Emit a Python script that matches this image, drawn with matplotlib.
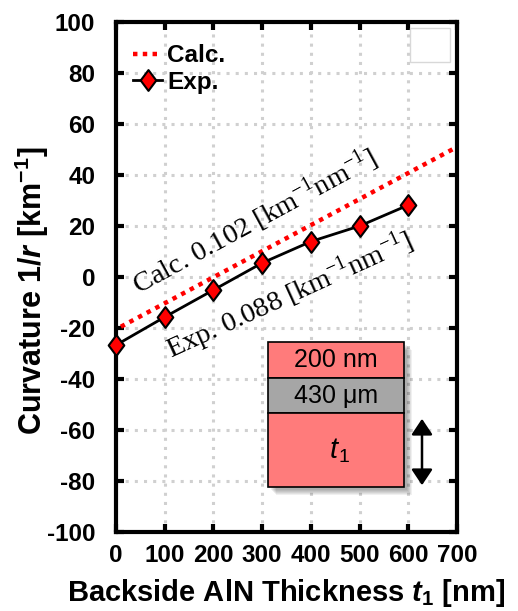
import matplotlib
matplotlib.use("Agg")
import matplotlib.pyplot as plt
from matplotlib.patches import Rectangle, FancyArrowPatch
from matplotlib.path import Path
import numpy as np

plt.rcParams['font.family'] = ['Liberation Sans', 'DejaVu Sans']
plt.rcParams['axes.unicode_minus'] = False
plt.rcParams['mathtext.fontset'] = 'custom'
plt.rcParams['mathtext.rm'] = 'Liberation Serif'
plt.rcParams['mathtext.it'] = 'Liberation Sans:italic:bold'
plt.rcParams['mathtext.bf'] = 'Liberation Sans:bold'
plt.rcParams['mathtext.sf'] = 'Liberation Sans'

# ---- data ----
exp_x = [0, 100, 200, 300, 400, 500, 600]
exp_y = [-26.7, -15.7, -5.1, 5.5, 13.9, 20.0, 28.2]
calc_x = [10, 700]
calc_y = [-19.5, 51.0]
xticks = [0, 100, 200, 300, 400, 500, 600, 700]
yticks = [-100, -80, -60, -40, -20, 0, 20, 40, 60, 80, 100]
legend_labels = ["Calc.", "Exp."]
calc_note = r"Calc. 0.102 [km$^{-1}$nm$^{-1}$]"
exp_note = r"Exp. 0.088 [km$^{-1}$nm$^{-1}$]"
layers = ["200 nm", "430 \u03bcm", "t", "1"]

W, H = 518, 611
fig = plt.figure(figsize=(W/100, H/100), dpi=100)
L, R, B, T = 116, 457, 532, 22
ax = fig.add_axes([L/W, 1-B/H, (R-L)/W, (B-T)/H])

diamond = Path([(0, 1), (0.75, 0), (0, -1), (-0.75, 0), (0, 1)],
               [Path.MOVETO, Path.LINETO, Path.LINETO, Path.LINETO, Path.CLOSEPOLY])

ax.plot(calc_x, calc_y, linestyle=(0, (1, 1.2)), color='#ff0000', lw=3.2,
        label=legend_labels[0], zorder=3)
ax.plot(exp_x, exp_y, color='black', lw=2, marker=diamond, markersize=15,
        markerfacecolor='#ff0000', markeredgecolor='black', markeredgewidth=1.5,
        label=legend_labels[1], clip_on=False, zorder=4)

ax.set_xlim(0, 700)
ax.set_ylim(-100, 100)
ax.set_xticks(xticks)
ax.set_yticks(yticks)
ax.tick_params(direction='in', length=6, width=3, top=True, right=True,
               labelsize=17.5)
ax.tick_params(axis='x', pad=9)
ax.tick_params(axis='y', pad=15)
for lab in ax.get_xticklabels() + ax.get_yticklabels():
    lab.set_fontweight('bold')
for s in ax.spines.values():
    s.set_linewidth(3)
ax.grid(True, color='#d0d0d0', linestyle=(0, (1, 2)), lw=2.2)
ax.set_axisbelow(True)

ax.set_xlabel(r"Backside AlN Thickness $\mathit{t}_{\mathbf{1}}$ [nm]",
              fontsize=21, fontweight='bold', labelpad=7)
ax.set_ylabel(r"Curvature 1/$\mathit{r}$ [km$^{\mathbf{-1}}$]",
              fontsize=22, fontweight='bold')
ax.yaxis.set_label_coords(-0.19, 0.473)

leg = ax.legend(loc='upper left', frameon=False,
                prop={'weight': 'bold', 'size': 17.5}, handlelength=1.2,
                handletextpad=0.2, borderaxespad=0.3, labelspacing=0.15,
                bbox_to_anchor=(0.0, 0.99))

# empty box top-right
ax.add_patch(Rectangle((0.862, 0.922), 0.117, 0.066, transform=ax.transAxes,
                       facecolor='white', edgecolor='#d8d8d8', lw=1, zorder=5))

ax.text(283, 22, calc_note, rotation=28.5, rotation_mode='anchor',
        ha='center', va='center', fontsize=20.5, family='Liberation Serif', zorder=6)
ax.text(355, -7.0, exp_note, rotation=24.5, rotation_mode='anchor',
        ha='center', va='center', fontsize=20.5, family='Liberation Serif', zorder=6)

# inset layer diagram (figure pixel coordinates)
def fx(px):
    return px / W

def fy(py):
    return 1 - py / H

x0, x1 = 268, 404
ys = [342, 378, 413, 487]
cols = ['#ff7b7b', '#a6a6a6', '#ff7b7b']
for k in range(6):
    d = 3 + k
    fig.patches.append(Rectangle((fx(x0 + d), fy(ys[-1] + d)), fx(x1 - x0), fy(ys[0]) - fy(ys[-1]),
                                 transform=fig.transFigure, facecolor='black',
                                 edgecolor='none', alpha=0.06, zorder=7))
for i in range(3):
    fig.patches.append(Rectangle((fx(x0), fy(ys[i+1])), fx(x1 - x0), fy(ys[i]) - fy(ys[i+1]),
                                 transform=fig.transFigure, facecolor=cols[i],
                                 edgecolor='black', lw=1.2, zorder=8))
fig.text(fx((x0+x1)/2), fy((ys[0]+ys[1])/2), layers[0], ha='center', va='center',
         fontsize=18, zorder=9)
fig.text(fx((x0+x1)/2), fy((ys[1]+ys[2])/2), layers[1], ha='center', va='center',
         fontsize=18, zorder=9)
fig.text(fx((x0+x1)/2) + 0.004, fy((ys[2]+ys[3])/2), layers[2], ha='right', va='center',
         fontsize=21, fontstyle='italic', zorder=9)
fig.text(fx((x0+x1)/2) + 0.004, fy((ys[2]+ys[3])/2) - 0.012, layers[3], ha='left', va='center',
         fontsize=14, zorder=9)
arr = FancyArrowPatch((fx(422), fy(416)), (fx(422), fy(488)), transform=fig.transFigure,
                      arrowstyle='<|-|>,head_length=6,head_width=4', color='black',
                      lw=1.8, zorder=9, mutation_scale=1.6)
fig.patches.append(arr)

fig.savefig("out.png", dpi=100)
